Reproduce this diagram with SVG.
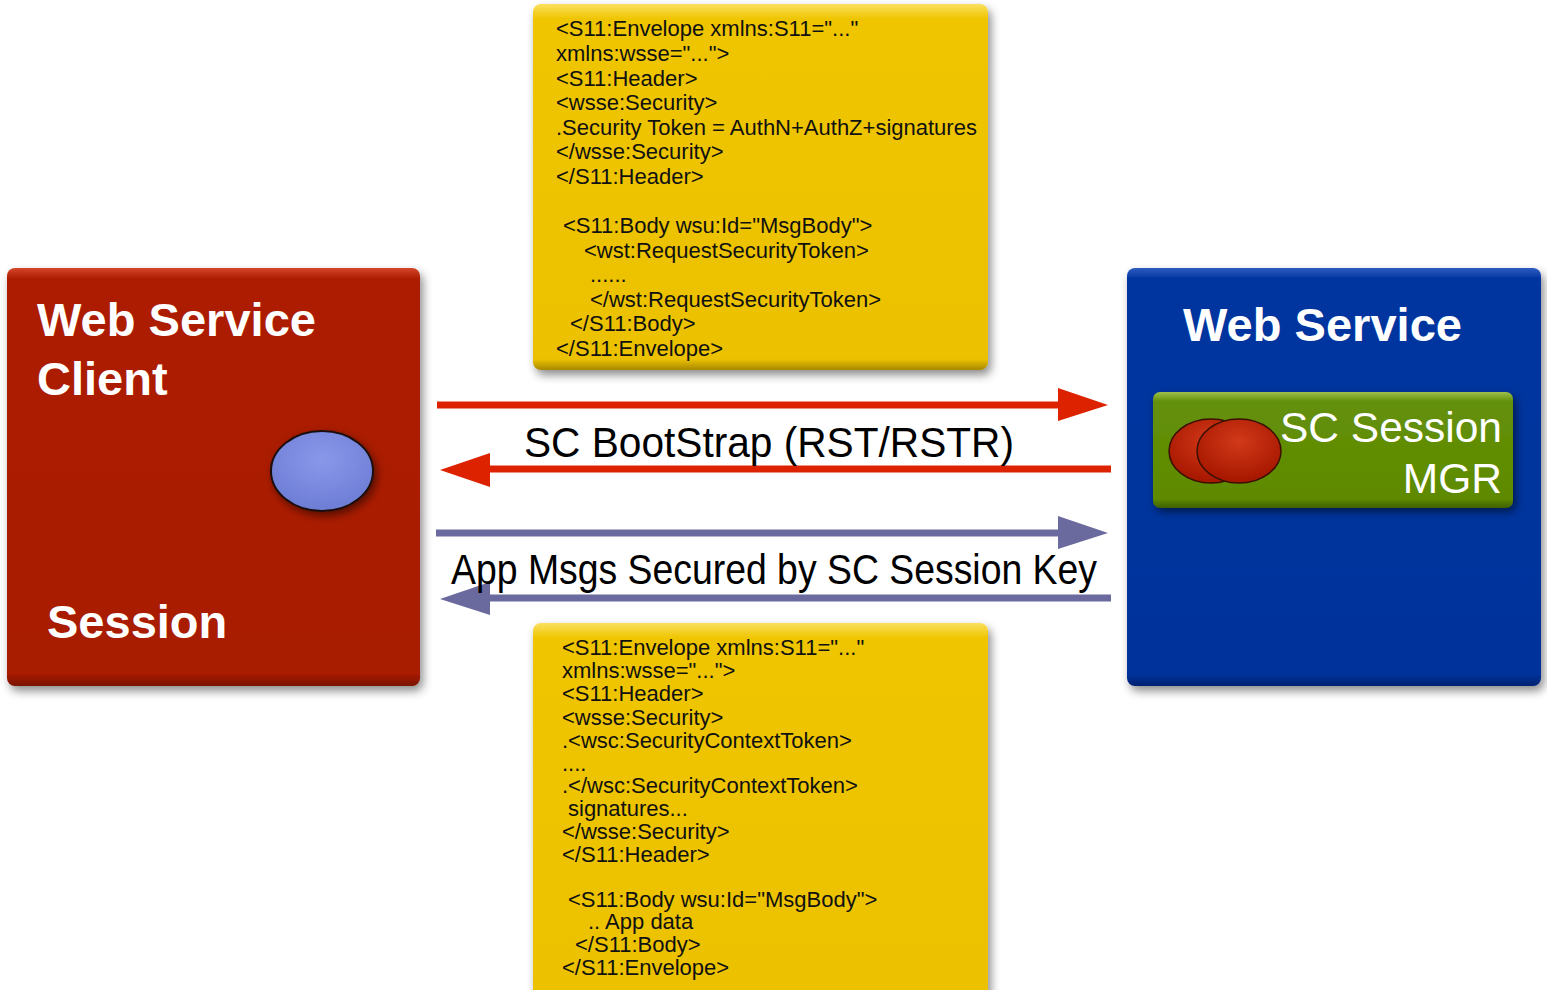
<svg xmlns="http://www.w3.org/2000/svg" width="1547" height="990" viewBox="0 0 1547 990">
<defs>
<filter id="sh" x="-10%" y="-10%" width="125%" height="125%">
<feDropShadow dx="3" dy="5" stdDeviation="5" flood-color="#000" flood-opacity="0.45"/>
</filter>
<filter id="sh2" x="-20%" y="-20%" width="150%" height="150%">
<feDropShadow dx="3" dy="4" stdDeviation="4" flood-color="#000" flood-opacity="0.5"/>
</filter>
<linearGradient id="gRed" x1="0" y1="0" x2="0" y2="1">
<stop offset="0" stop-color="#d4472c"/>
<stop offset="0.025" stop-color="#ad1d00"/>
<stop offset="0.97" stop-color="#a81a00"/>
<stop offset="1" stop-color="#7a1200"/>
</linearGradient>
<linearGradient id="gBlue" x1="0" y1="0" x2="0" y2="1">
<stop offset="0" stop-color="#2f5cc0"/>
<stop offset="0.025" stop-color="#0035a0"/>
<stop offset="0.97" stop-color="#00339c"/>
<stop offset="1" stop-color="#002270"/>
</linearGradient>
<linearGradient id="gYel" x1="0" y1="0" x2="0" y2="1">
<stop offset="0" stop-color="#fbe060"/>
<stop offset="0.04" stop-color="#efc500"/>
<stop offset="0.97" stop-color="#ecc200"/>
<stop offset="1" stop-color="#a88800"/>
</linearGradient>
<linearGradient id="gYel2" x1="0" y1="0" x2="0" y2="1">
<stop offset="0" stop-color="#fbe060"/>
<stop offset="0.04" stop-color="#efc500"/>
<stop offset="1" stop-color="#ecc200"/>
</linearGradient>
<linearGradient id="gGreen" x1="0" y1="0" x2="0" y2="1">
<stop offset="0" stop-color="#9dc04a"/>
<stop offset="0.08" stop-color="#64900a"/>
<stop offset="0.92" stop-color="#5e8a00"/>
<stop offset="1" stop-color="#3f6000"/>
</linearGradient>
<radialGradient id="gOval" cx="0.5" cy="0.35" r="0.6">
<stop offset="0" stop-color="#8a98ea"/>
<stop offset="1" stop-color="#6f7fd6"/>
</radialGradient>
<radialGradient id="gRedOval" cx="0.5" cy="0.35" r="0.6">
<stop offset="0" stop-color="#d23a1a"/>
<stop offset="1" stop-color="#a81800"/>
</radialGradient>
<style>
.code{font-family:"Liberation Sans",Arial,sans-serif;font-size:22px;fill:#111;}
.title{font-family:"Liberation Sans",Arial,sans-serif;font-weight:bold;font-size:47px;fill:#fff;}
.lbl{font-family:"Liberation Sans",Arial,sans-serif;font-size:42px;fill:#000;}
.mgr{font-family:"Liberation Sans",Arial,sans-serif;font-size:42.5px;fill:#fff;}
</style>
</defs>
<rect width="1547" height="990" fill="#fff"/>

<g id="client">
<rect x="7" y="268" width="413" height="418" rx="8" fill="url(#gRed)" filter="url(#sh)"/>
<ellipse cx="322" cy="471" rx="51" ry="40" fill="url(#gOval)" stroke="#1a1010" stroke-width="2" filter="url(#sh2)"/>
<text class="title" x="37" y="336" textLength="279" lengthAdjust="spacingAndGlyphs">Web Service</text>
<text class="title" x="37" y="395">Client</text>
<text class="title" x="47" y="638">Session</text>
</g>

<g id="service">
<rect x="1127" y="268" width="414" height="418" rx="8" fill="url(#gBlue)" filter="url(#sh)"/>
<text class="title" x="1183" y="341" textLength="279" lengthAdjust="spacingAndGlyphs">Web Service</text>
</g>

<g id="scmgr">
<rect x="1153" y="392" width="360" height="116" rx="7" fill="url(#gGreen)" filter="url(#sh2)"/>
<ellipse cx="1211" cy="451" rx="42" ry="32" fill="url(#gRedOval)" stroke="#3a1000" stroke-width="1.5"/>
<ellipse cx="1239" cy="451" rx="42" ry="32" fill="url(#gRedOval)" stroke="#3a1000" stroke-width="1.5"/>
<text class="mgr" x="1502" y="442" text-anchor="end">SC Session</text>
<text class="mgr" x="1502" y="493" text-anchor="end">MGR</text>
</g>

<g id="msg1">
<rect x="533" y="4" width="455" height="366" rx="8" fill="url(#gYel)" filter="url(#sh)"/>
<text class="code">
<tspan x="556" y="36">&lt;S11:Envelope xmlns:S11="..."</tspan>
<tspan x="556" y="61">xmlns:wsse="..."&gt;</tspan>
<tspan x="556" y="86">&lt;S11:Header&gt;</tspan>
<tspan x="556" y="110">&lt;wsse:Security&gt;</tspan>
<tspan x="556" y="135">.Security Token = AuthN+AuthZ+signatures</tspan>
<tspan x="556" y="159">&lt;/wsse:Security&gt;</tspan>
<tspan x="556" y="184">&lt;/S11:Header&gt;</tspan>
<tspan x="563" y="233">&lt;S11:Body wsu:Id="MsgBody"&gt;</tspan>
<tspan x="584" y="258">&lt;wst:RequestSecurityToken&gt;</tspan>
<tspan x="590" y="282">......</tspan>
<tspan x="590" y="307">&lt;/wst:RequestSecurityToken&gt;</tspan>
<tspan x="570" y="331">&lt;/S11:Body&gt;</tspan>
<tspan x="556" y="356">&lt;/S11:Envelope&gt;</tspan>
</text>
</g>

<g id="msg2">
<rect x="533" y="623" width="455" height="380" rx="8" fill="url(#gYel2)" filter="url(#sh)"/>
<text class="code">
<tspan x="562" y="655">&lt;S11:Envelope xmlns:S11="..."</tspan>
<tspan x="562" y="678">xmlns:wsse="..."&gt;</tspan>
<tspan x="562" y="701">&lt;S11:Header&gt;</tspan>
<tspan x="562" y="725">&lt;wsse:Security&gt;</tspan>
<tspan x="562" y="748">.&lt;wsc:SecurityContextToken&gt;</tspan>
<tspan x="562" y="771">....</tspan>
<tspan x="562" y="793">.&lt;/wsc:SecurityContextToken&gt;</tspan>
<tspan x="568" y="816">signatures...</tspan>
<tspan x="562" y="839">&lt;/wsse:Security&gt;</tspan>
<tspan x="562" y="862">&lt;/S11:Header&gt;</tspan>
<tspan x="568" y="907">&lt;S11:Body wsu:Id="MsgBody"&gt;</tspan>
<tspan x="588" y="929">.. App data</tspan>
<tspan x="575" y="952">&lt;/S11:Body&gt;</tspan>
<tspan x="562" y="975">&lt;/S11:Envelope&gt;</tspan>
</text>
</g>

<g id="connectors">
<line x1="437" y1="405" x2="1062" y2="405" stroke="#dd2200" stroke-width="7"/>
<polygon points="1058,388 1108,405 1058,421" fill="#dd2200"/>
<line x1="1111" y1="469" x2="486" y2="469" stroke="#dd2200" stroke-width="7"/>
<polygon points="490,453 440,470 490,487" fill="#dd2200"/>
<line x1="436" y1="533" x2="1062" y2="533" stroke="#6a6a9e" stroke-width="7"/>
<polygon points="1058,516 1108,533 1058,549" fill="#6a6a9e"/>
<line x1="1111" y1="598" x2="486" y2="598" stroke="#6a6a9e" stroke-width="7"/>
<polygon points="490,582 440,599 490,615" fill="#6a6a9e"/>
<text class="lbl" x="524" y="457" textLength="490" lengthAdjust="spacingAndGlyphs">SC BootStrap (RST/RSTR)</text>
<text class="lbl" x="451" y="584" textLength="646" lengthAdjust="spacingAndGlyphs">App Msgs Secured by SC Session Key</text>
</g>
</svg>
